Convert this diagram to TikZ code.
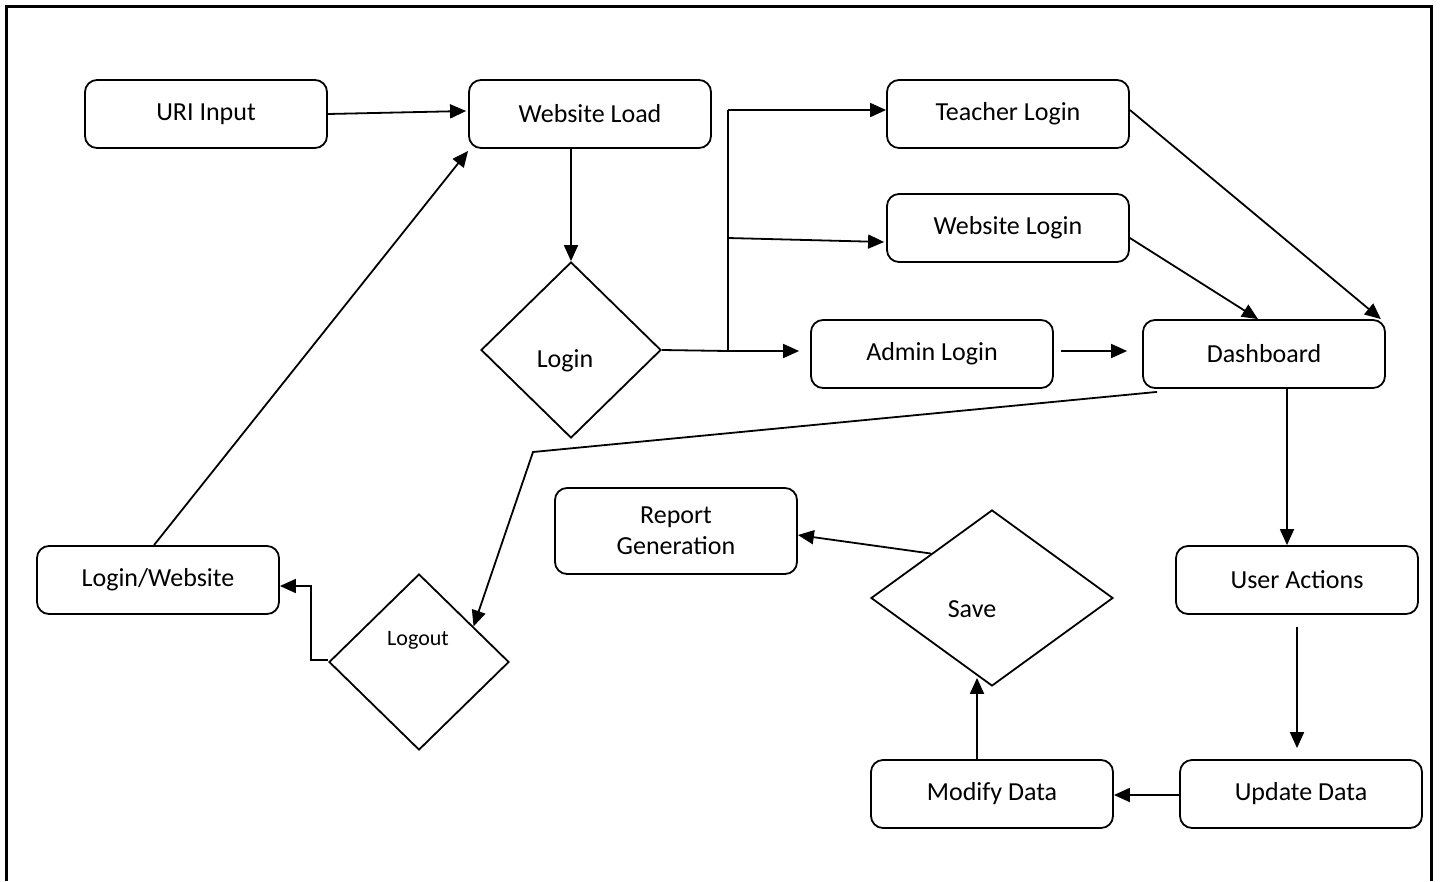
\documentclass[tikz,border=0pt]{standalone}
\usepackage{fontspec}
\setmainfont{Carlito}
\usetikzlibrary{shapes.geometric,arrows.meta,calc}

\begin{document}
\begin{tikzpicture}[x=1pt,y=-1pt,
  every node/.style={font=\fontsize{26}{31}\selectfont},
  box/.style={draw,line width=1.8pt,rounded corners=12pt,minimum width=242pt,minimum height=68pt,inner sep=0pt,align=center},
  decision/.style={draw,line width=1.8pt,diamond,inner sep=0pt,minimum width=#1,minimum height=176pt},
  conn/.style={line width=1.8pt},
  arr/.style={conn,-{Triangle[length=16pt,width=14pt]}}
]
\useasboundingbox (0,0) rectangle (1440,881);
\fill[white] (0,0) rectangle (1440,881);

% outer frame, open at the bottom
\draw[line width=3pt] (6,881) -- (6,6) -- (1431,6) -- (1431,881);

% process boxes
\node[box] (uri)      at (206,114) {URI Input};
\node[box] (wload)    at (590,114) {Website Load};
\node[box] (teacher)  at (1008,114) {Teacher Login};
\node[box] (wlogin)   at (1008,228) {Website Login};
\node[box] (admin)    at (932,354) {Admin Login};
\node[box] (dash)     at (1264,354) {Dashboard};
\node[box] (lw)       at (158,580) {Login/Website};
\node[box,minimum height=86pt] (report) at (676,531) {Report\\Generation};
\node[box] (uact)     at (1297,580) {User Actions};
\node[box] (modify)   at (992,794) {Modify Data};
\node[box] (update)   at (1301,794) {Update Data};

% decisions
\node[decision=180pt] (login)  at (571,350) {};
\node[decision=180pt] (logout) at (419,662) {};
\node[decision=242pt] (save)   at (992,598) {};
\node (logintxt)  at (565,361) {Login};
\node[font=\fontsize{22}{27}\selectfont] (logouttxt) at (418,640) {Logout};
\node (savetxt)   at (972,609) {Save};

% junction points of the login branches
\coordinate (jlow) at (728,351);
\coordinate (jmid) at (728,238);
\coordinate (jtop) at (728,110);
\coordinate (bend) at (533,452);

% connectors
\draw[arr] (uri.east) -- ($(wload.west)+(-2,-3)$);
\draw[arr] (wload.south -| login.north) -- (login.north);
\draw[conn] (login.east) -- (jlow);
\draw[conn] (jlow) -- (jtop);
\draw[arr] (jtop) -- (jtop -| teacher.west);
\draw[arr] (jmid) -- ($(wlogin.west)+(-2,14)$);
\draw[arr] (jlow) -- ($(admin.west)+(-11,-3)$);
\draw[arr] ($(teacher.east)+(0,-4)$) -- ($(dash.north east)+(-5,0)$);
\draw[arr] ($(wlogin.east)+(0,10)$) -- ($(dash.north)+(-6,0)$);
\draw[arr] ($(admin.east)+(7,-3)$) -- ($(dash.west)+(-15,-3)$);
\draw[arr] ($(dash.south west)+(15,3)$) -- (bend) -- ($(logout.north)!0.6!(logout.east)$);
\draw[arr] ($(dash.south)+(23,0)$) -- ($(uact.north)+(-10,0)$);
\draw[arr] ($(uact.south)+(0,12)$) -- ($(update.north)+(-4,-11)$);
\draw[arr] ($(update.west)+(0,1)$) -- ($(modify.east)+(0,1)$);
\draw[arr] ($(modify.north)+(-15,0)$) -- ($(save.south)+(-15,-9)$);
\draw[arr] (save.north west) -- ($(report.east)+(0,4)$);
\draw[arr] ($(logout.west)+(0,-2)$) -- ++(-17,0) |- ($(lw.east)+(0,6)$);
\draw[arr] ($(lw.north)+(-4,0)$) -- ($(wload.south west)+(0,2)$);
\end{tikzpicture}
\end{document}
